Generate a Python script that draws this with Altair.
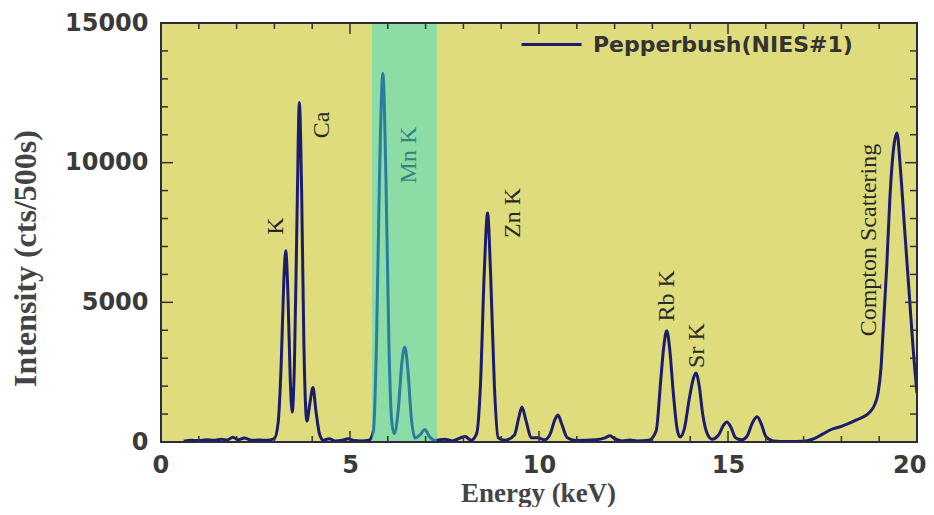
import altair as alt
import pandas as pd

# ---------------- data ----------------
energy = [0.6, 0.8, 1.0, 1.2, 1.4, 1.6, 1.75, 1.9, 2.05, 2.2, 2.4, 2.6, 2.8, 3.0,
          3.1, 3.18, 3.25, 3.3, 3.36, 3.42, 3.47, 3.53, 3.6, 3.66, 3.72, 3.78, 3.86,
          3.94, 4.02, 4.1, 4.2, 4.3, 4.45, 4.6, 4.8, 4.95, 5.1, 5.3, 5.5,
          5.62, 5.7, 5.78, 5.87, 5.95, 6.03, 6.1, 6.17, 6.28, 6.37, 6.45, 6.53, 6.62,
          6.72, 6.85, 6.98, 7.1, 7.25, 7.5, 7.7, 8.05, 8.2,
          8.35, 8.45, 8.55, 8.64, 8.72, 8.82, 8.92, 9.1, 9.35, 9.47, 9.55, 9.65, 9.8,
          9.97, 10.15, 10.3, 10.42, 10.5, 10.6, 10.75, 11.0, 11.5, 11.75, 11.88, 12.0,
          12.2, 12.4, 12.6, 12.9, 13.1, 13.22, 13.3, 13.38, 13.46, 13.55, 13.65, 13.73,
          13.85, 13.97, 14.07, 14.15, 14.24, 14.33, 14.45, 14.58, 14.75, 14.88, 14.97,
          15.07, 15.2, 15.35, 15.5, 15.65, 15.77, 15.88, 16.0, 16.2, 16.6, 17.0, 17.2,
          17.5, 17.7, 18.0, 18.4, 18.75, 18.9, 18.97, 19.05, 19.1, 19.2, 19.28, 19.38,
          19.47, 19.56, 19.68, 19.8, 19.9, 20.0]
intensity = [30, 60, 50, 80, 60, 100, 70, 170, 80, 140, 60, 70, 60, 120,
             700, 2800, 5800, 6850, 5200, 2200, 1070, 2800, 8200, 12150, 9000, 3500, 750,
             1400, 1950, 1100, 250, 60, 120, 40, 60, 120, 50, 40, 60,
             400, 3500, 9500, 13200, 9500, 3500, 800, 300, 1200, 2800, 3400, 2600, 900,
             140, 250, 450, 200, 60, 100, 40, 200, 60,
             300, 2000, 6000, 8200, 6000, 2000, 150, 60, 250, 900, 1250, 800, 150,
             150, 80, 300, 800, 970, 650, 150, 50, 80, 150, 220, 120,
             40, 70, 40, 60, 400, 2200, 3400, 3980, 3300, 1800, 500, 180,
             500, 1500, 2200, 2470, 2000, 1000, 300, 100, 250, 600, 720,
             550, 150, 80, 200, 700, 900, 650, 200, 40, 20, 30, 80,
             280, 430, 560, 790, 1070, 1400, 1750, 2700, 3900, 6300, 8660, 10500,
             11060, 9800, 7480, 5200, 3300, 1750]
series_name = "Pepperbush(NIES#1)"

label_text = ["K", "Ca", "Mn K", "Zn K", "Rb K", "Sr K", "Compton Scattering"]
label_energy = [3.04, 4.26, 6.56, 9.31, 13.39, 14.18, 18.73]
label_intensity = [7730, 11350, 10270, 8200, 5230, 3450, 7230]

band_start = [5.58]
band_end = [7.30]

x_ticks_major = [5, 10, 15]
x_ticks_minor = [1, 2, 3, 4, 6, 7, 8, 9, 11, 12, 13, 14, 16, 17, 18, 19]
y_ticks_major = [5000, 10000]
y_ticks_minor = [1000, 2000, 3000, 4000, 6000, 7000, 8000, 9000,
                 11000, 12000, 13000, 14000]
x_label_values = [0, 5, 10, 15, 20]
y_label_values = [0, 5000, 10000, 15000]

# ---------------- styling ----------------
W, H = 756, 419
NAVY = "#1c1c6e"
BG = "#dfdc7d"
INK = "#333333"
SERIF = "Liberation Serif"

spec_df = pd.DataFrame({"E": energy, "I": intensity, "series": series_name})
lab_df = pd.DataFrame({"E": label_energy, "I": label_intensity, "t": label_text})
band_df = pd.DataFrame({"s": band_start, "e": band_end})
xmaj = pd.DataFrame({"v": x_ticks_major})
xmin = pd.DataFrame({"v": x_ticks_minor})
ymaj = pd.DataFrame({"v": y_ticks_major})
ymin = pd.DataFrame({"v": y_ticks_minor})
one = pd.DataFrame({"a": [0]})

xs = alt.Scale(domain=[0, 20], nice=False, zero=False)
ys = alt.Scale(domain=[0, 15000], nice=False)

x_axis = alt.Axis(values=x_label_values, format="d", ticks=False, domain=False, grid=False,
                  labelFont="DejaVu Sans", labelFontWeight="bold", labelFontSize=24,
                  labelColor="#3a3a3a", labelPadding=11, labelFlush=True,
                  labelFlushOffset=9, labelOverlap=False,
                  title="Energy (keV)", titleFont=SERIF, titleFontWeight="bold",
                  titleFontSize=27, titleColor="#444444", titleX=377, titleY=59,
                  titleAlign="center", titleBaseline="alphabetic")
y_axis = alt.Axis(values=y_label_values, format="d", ticks=False, domain=False, grid=False,
                  labelFont="DejaVu Sans", labelFontWeight="bold", labelFontSize=24,
                  labelColor="#3a3a3a", labelPadding=13, labelFlush=False, labelOverlap=False,
                  title="Intensity (cts/500s)", titleFont=SERIF,
                  titleFontWeight="bold", titleFontSize=32, titleColor="#444444",
                  titleAngle=270, titleX=-136, titleY=235,
                  titleAlign="center", titleBaseline="middle")

line = alt.Chart(spec_df).mark_line(strokeWidth=3, interpolate="monotone", clip=True).encode(
    x=alt.X("E:Q", scale=xs, axis=x_axis),
    y=alt.Y("I:Q", scale=ys, axis=y_axis),
    color=alt.Color("series:N", scale=alt.Scale(domain=[series_name], range=[NAVY]),
                    legend=alt.Legend(orient="none", legendX=359, legendY=-10, title=None,
                                      symbolType="stroke", symbolSize=3600,
                                      symbolStrokeWidth=3, labelFont="DejaVu Sans",
                                      labelFontWeight="bold", labelFontSize=22,
                                      labelColor=INK, labelOffset=10, padding=0,
                                      labelLimit=400)),
)

labels = alt.Chart(lab_df).mark_text(angle=270, align="center", baseline="middle",
                                     font=SERIF, fontSize=24,
                                     color="#2a2a2a").encode(
    x=alt.X("E:Q", scale=xs), y=alt.Y("I:Q", scale=ys), text="t:N")

band = alt.Chart(band_df).mark_rect(color="#39dccd", opacity=0.5).encode(
    x=alt.X("s:Q", scale=xs), x2="e:Q", y=alt.value(0), y2=alt.value(H))

tick_style = dict(color=INK, strokeWidth=1.5)
ticks = [
    alt.Chart(xmaj).mark_rule(**tick_style).encode(x=alt.X("v:Q", scale=xs), y=alt.value(H), y2=alt.value(H - 11)),
    alt.Chart(xmin).mark_rule(**tick_style).encode(x=alt.X("v:Q", scale=xs), y=alt.value(H), y2=alt.value(H - 6)),
    alt.Chart(xmaj).mark_rule(**tick_style).encode(x=alt.X("v:Q", scale=xs), y=alt.value(0), y2=alt.value(11)),
    alt.Chart(xmin).mark_rule(**tick_style).encode(x=alt.X("v:Q", scale=xs), y=alt.value(0), y2=alt.value(6)),
    alt.Chart(ymaj).mark_rule(**tick_style).encode(y=alt.Y("v:Q", scale=ys), x=alt.value(0), x2=alt.value(12)),
    alt.Chart(ymin).mark_rule(**tick_style).encode(y=alt.Y("v:Q", scale=ys), x=alt.value(0), x2=alt.value(7)),
    alt.Chart(ymaj).mark_rule(**tick_style).encode(y=alt.Y("v:Q", scale=ys), x=alt.value(W), x2=alt.value(W - 12)),
    alt.Chart(ymin).mark_rule(**tick_style).encode(y=alt.Y("v:Q", scale=ys), x=alt.value(W), x2=alt.value(W - 7)),
]

frame = alt.Chart(one).mark_rect(filled=False, stroke="#2b2b3b", strokeWidth=2).encode(
    x=alt.value(0), x2=alt.value(W), y=alt.value(0), y2=alt.value(H))

chart = alt.layer(line, labels, band, *ticks, frame).properties(
    width=W, height=H,
    padding={"left": 153, "top": 15, "right": 9, "bottom": 65},
    autosize=alt.AutoSizeParams(type="none"),
    background="white",
).configure_view(fill=BG, stroke=None)

chart.save("out.html", embed_options={"renderer": "svg", "actions": False})
